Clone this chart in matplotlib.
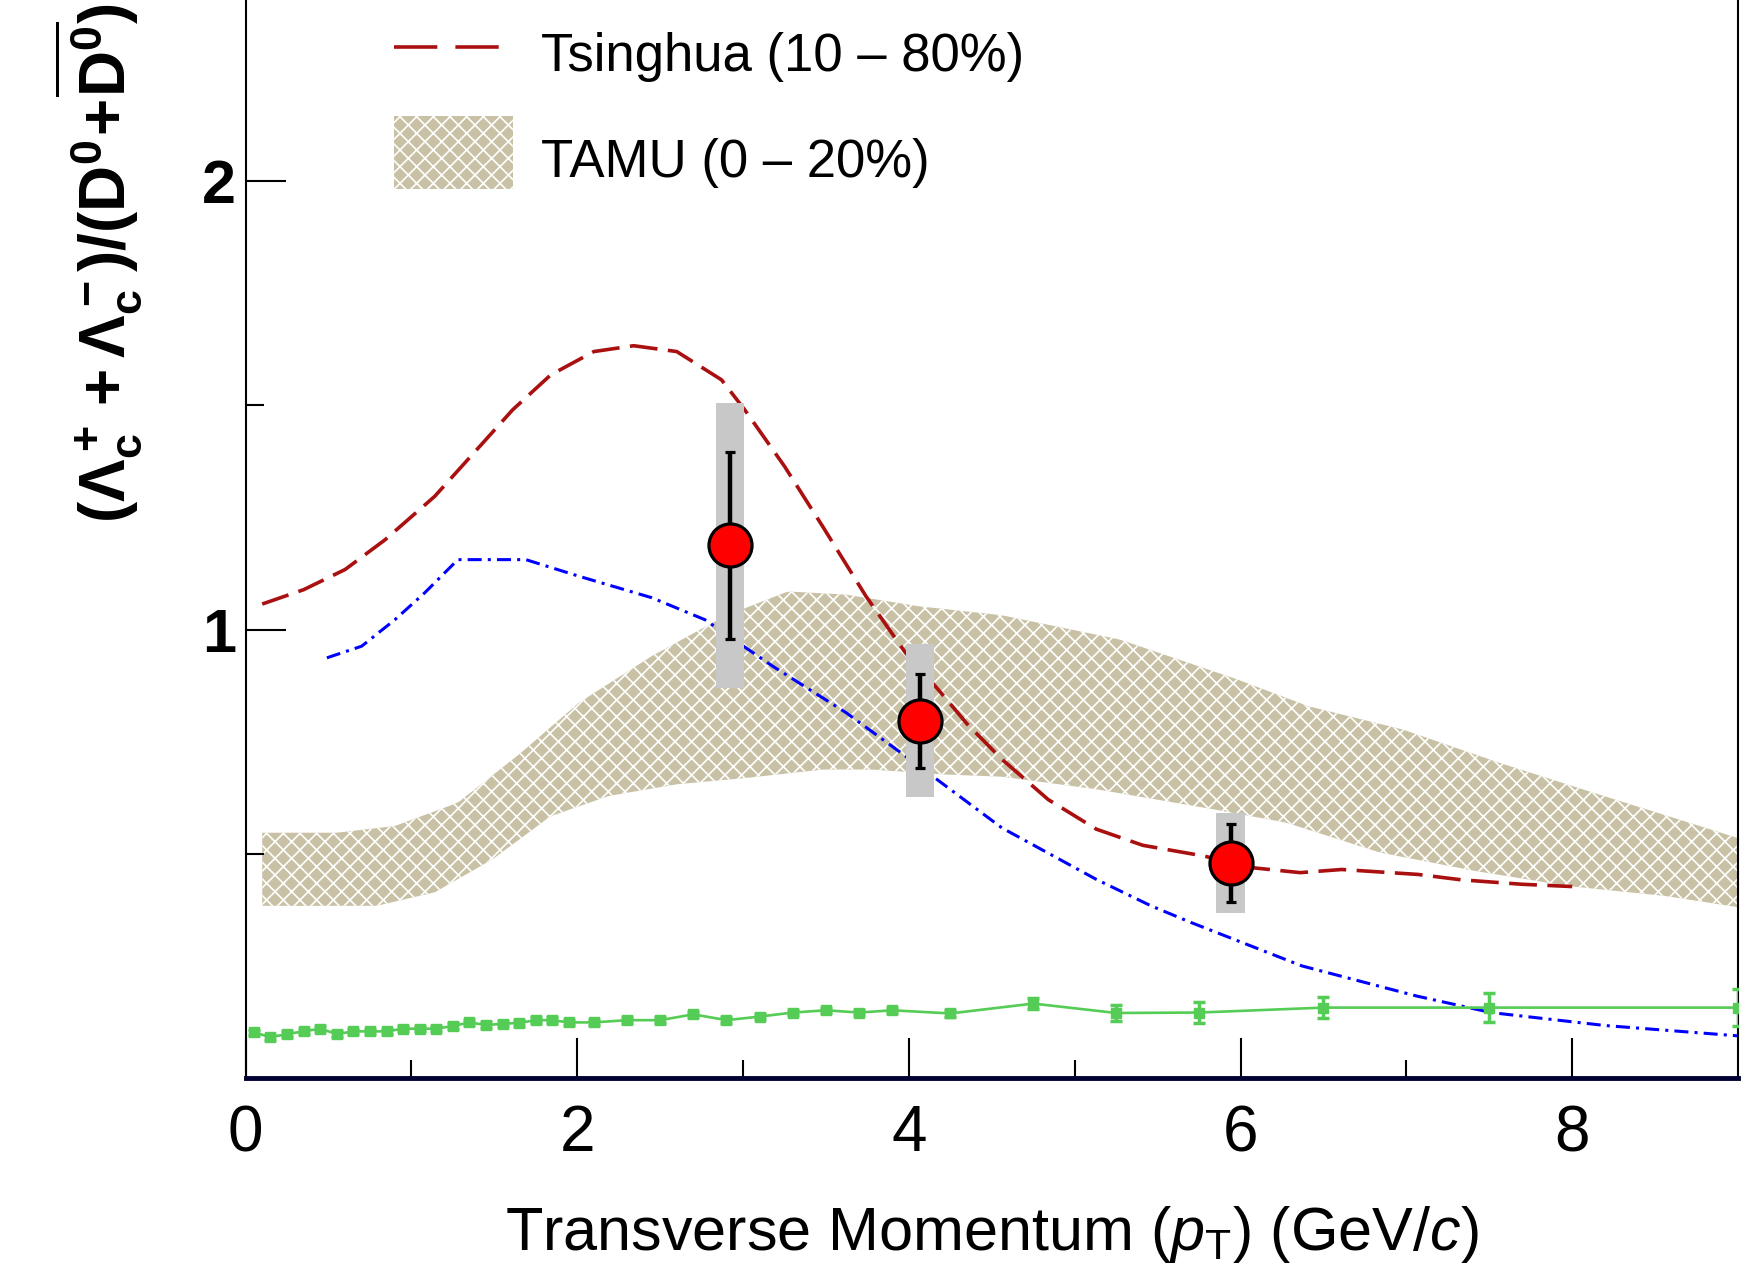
import numpy as np
import matplotlib
matplotlib.use("Agg")
import matplotlib.pyplot as plt
from matplotlib.lines import Line2D
from matplotlib.patches import Patch, Rectangle
from matplotlib.legend_handler import HandlerPatch

# ---- fonts (Helvetica look-alike) ----
plt.rcParams['font.family'] = ['Liberation Sans', 'DejaVu Sans']
plt.rcParams['mathtext.fontset'] = 'custom'
plt.rcParams['mathtext.rm'] = 'Liberation Sans'
plt.rcParams['mathtext.it'] = 'Liberation Sans:italic'
plt.rcParams['mathtext.bf'] = 'Liberation Sans:bold'
plt.rcParams['hatch.linewidth'] = 1.2

# ==========================================
# DATA
# ==========================================
# STAR data points
star_pt = [2.92, 4.065, 5.94]
star_ratio = [1.188, 0.797, 0.479]
star_stat = [0.208, 0.105, 0.087]
star_sys = [0.318, 0.170, 0.112]

# Tsinghua (10-80%) model curve
tsinghua_pt = [0.10, 0.35, 0.60, 0.84, 1.14, 1.43, 1.61, 1.84, 2.10, 2.34, 2.60,
               2.87, 3.01, 3.25, 3.48, 3.74, 3.98, 4.18, 4.35, 4.56, 4.84, 5.13,
               5.41, 5.78, 6.07, 6.36, 6.61, 7.07, 7.33, 7.70, 8.00]
tsinghua_ratio = [1.057, 1.089, 1.134, 1.200, 1.297, 1.416, 1.490, 1.568, 1.620,
                  1.633, 1.620, 1.557, 1.490, 1.364, 1.230, 1.075, 0.948, 0.865,
                  0.790, 0.711, 0.621, 0.555, 0.519, 0.495, 0.469, 0.458, 0.465,
                  0.454, 0.442, 0.432, 0.427]

# blue dash-dotted model curve
blue_pt = [0.49, 0.70, 0.90, 1.08, 1.28, 1.69, 2.01, 2.45, 2.77, 3.18, 3.62, 4.06,
           4.56, 5.13, 5.46, 5.70, 6.37, 7.06, 7.51, 8.20, 9.00]
blue_ratio = [0.937, 0.963, 1.022, 1.082, 1.156, 1.156, 1.119, 1.071, 1.022, 0.918,
              0.815, 0.696, 0.558, 0.443, 0.384, 0.347, 0.250, 0.183, 0.146, 0.117,
              0.094]

# TAMU (0-20%) band
tamu_up_pt = [0.10, 0.55, 0.90, 1.28, 1.66, 2.01, 2.45, 2.89, 3.27, 3.62, 4.06,
              4.56, 5.27, 5.98, 6.41, 6.98, 7.56, 8.13, 8.70, 9.00]
tamu_up = [0.547, 0.547, 0.562, 0.614, 0.725, 0.837, 0.941, 1.030, 1.085, 1.078,
           1.052, 1.032, 0.978, 0.889, 0.829, 0.777, 0.703, 0.636, 0.570, 0.535]
tamu_lo_pt = [0.10, 0.79, 1.14, 1.49, 1.84, 2.19, 2.60, 3.04, 3.48, 3.77, 4.21,
              4.56, 5.13, 5.84, 6.27, 6.84, 7.41, 7.98, 8.56, 9.00]
tamu_lo = [0.384, 0.384, 0.414, 0.488, 0.584, 0.629, 0.655, 0.670, 0.688, 0.688,
           0.677, 0.672, 0.644, 0.599, 0.570, 0.503, 0.462, 0.428, 0.406, 0.381]

# green points with error bars
green_pt = [0.05, 0.15, 0.25, 0.35, 0.45, 0.55, 0.65, 0.75, 0.85, 0.95, 1.05, 1.15,
            1.25, 1.35, 1.45, 1.55, 1.65, 1.75, 1.85, 1.95, 2.1, 2.3, 2.5, 2.7, 2.9,
            3.1, 3.3, 3.5, 3.7, 3.9, 4.25, 4.75, 5.25, 5.75, 6.5, 7.5, 9.0]
green_ratio = [0.102, 0.091, 0.098, 0.104, 0.110, 0.098, 0.104, 0.104, 0.104, 0.110,
               0.110, 0.110, 0.116, 0.124, 0.118, 0.121, 0.123, 0.129, 0.129, 0.124,
               0.124, 0.129, 0.129, 0.142, 0.129, 0.137, 0.146, 0.151, 0.146, 0.151,
               0.144, 0.166, 0.145, 0.146, 0.157, 0.157, 0.157]
green_err = [0.006] * 30 + [0.008, 0.013, 0.017, 0.023, 0.023, 0.032, 0.042]

# ==========================================
# FIGURE
# ==========================================
fig = plt.figure(figsize=(17.42, 12.69), dpi=100, facecolor='white')
ax = fig.add_axes([0.141, 0.1505, 0.8567, 0.8495])

TAN = '#c8c1a5'
HATCH = 'xx'
RED = '#aa1010'

# band between the two TAMU edges (common pT grid for fill_between)
band_x = np.linspace(0.1, 9.0, 300)
ax.fill_between(band_x, np.interp(band_x, tamu_lo_pt, tamu_lo),
                np.interp(band_x, tamu_up_pt, tamu_up),
                facecolor=TAN, edgecolor='white', hatch=HATCH, linewidth=0, zorder=1)

ax.plot(blue_pt, blue_ratio, color='#0000ff', lw=2.2, dashes=(4.6, 2, 1, 2), zorder=2)
ax.plot(tsinghua_pt, tsinghua_ratio, color=RED, lw=2.6, dashes=(7.7, 2.9), zorder=2)

ax.errorbar(green_pt, green_ratio, yerr=green_err, color='#55cc55', lw=1.9,
            marker='s', ms=6.5, mec='#55cc55', capsize=4.5, capthick=2.5,
            elinewidth=2.5, zorder=3)

# systematic boxes
sys_arr = np.array(star_sys)
ax.bar(star_pt, 2 * sys_arr, bottom=np.array(star_ratio) - sys_arr, width=0.17,
       color='#c8c8c8', linewidth=0, zorder=4)
ax.errorbar(star_pt, star_ratio, yerr=star_stat, fmt='o', color='black',
            ms=31, mfc='#ff0000', mec='black', mew=2.3, elinewidth=3.2,
            capsize=3.6, capthick=3.0, zorder=5)

ax.set_xlim(0, 9.0)
ax.set_ylim(0, 2.404)
ax.set_xticks([0, 2, 4, 6, 8])
ax.set_xticks([1, 3, 5, 7], minor=True)
ax.set_yticks([1, 2])
ax.set_yticks([0.5, 1.5], minor=True)
ax.set_xticklabels(['0', '2', '4', '6', '8'])
ax.set_yticklabels(['1', '2'], fontweight='bold')

ax.tick_params(axis='both', which='major', direction='in', length=29, width=1.5)
ax.tick_params(axis='both', which='minor', direction='in', length=13, width=1.5)
ax.tick_params(axis='x', which='both', labelsize=46, pad=19)
ax.tick_params(axis='y', which='both', labelsize=44, pad=7)
ax.tick_params(right=False, top=False, which='both')

ax.spines['top'].set_visible(False)
ax.spines['left'].set_linewidth(1.5)
ax.spines['right'].set_linewidth(1.5)
ax.spines['bottom'].set_linewidth(3.5)
ax.spines['bottom'].set_color('#000033')


def tall_box(legend, orig_handle, xdescent, ydescent, width, height, fontsize):
    # taller filled box, like the ROOT legend entry
    return Rectangle((-xdescent, -ydescent), width, height * 1.245)


handles = [Line2D([], [], color=RED, lw=2.6, dashes=(12, 5)),
           Patch(facecolor=TAN, edgecolor='white', hatch=HATCH, linewidth=0)]
leg = ax.legend(handles, ['Tsinghua (10 \u2013 80%)', 'TAMU (0 \u2013 20%)'],
                loc='upper left', bbox_to_anchor=(0.0994, 0.978), frameon=False,
                fontsize=38, handlelength=2.25, handleheight=1.33,
                handletextpad=0.53, labelspacing=0.91, borderpad=0, borderaxespad=0,
                handler_map={Patch: HandlerPatch(patch_func=tall_box)})

# axis titles
fig.text(0.5695, 0.015, 'Transverse Momentum ($p_{\\rm T}$) (GeV/$c$)',
         fontsize=44, ha='center', va='baseline')
fig.text(0.057, 0.997,
         '$\\mathbf{(\u039b_c^+ + \u039b_c^-)/(D^0\\!+\\!\\overline{D^0})}$',
         fontsize=46, rotation=90, ha='center', va='top')

fig.savefig('out.png', dpi=100, facecolor='white')
